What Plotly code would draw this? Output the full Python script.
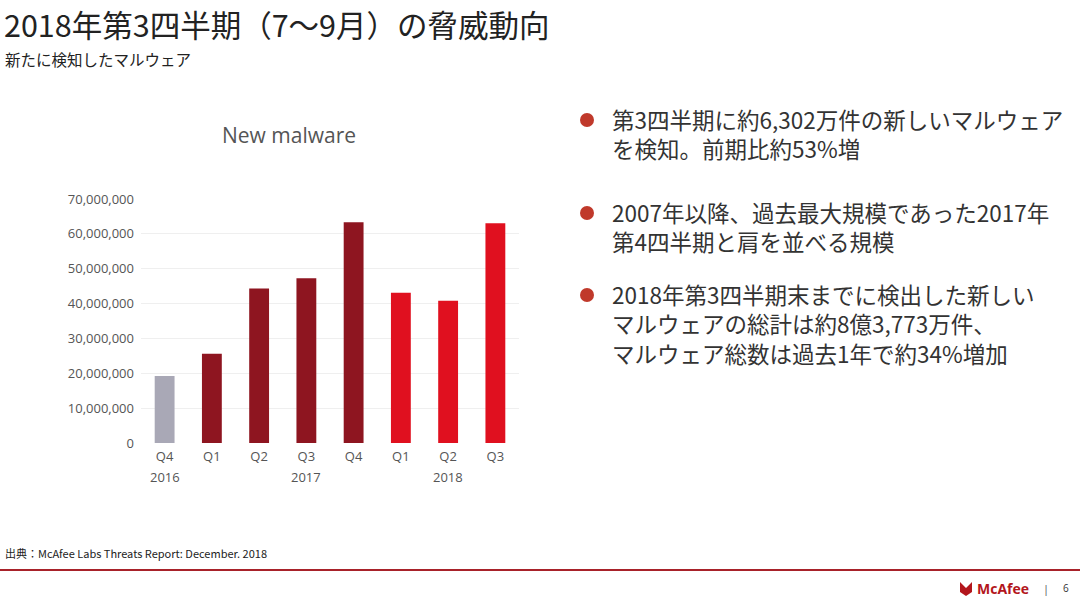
import plotly.graph_objects as go

# New malware per quarter
periods = ["Q4 2016", "Q1 2017", "Q2 2017", "Q3 2017", "Q4 2017", "Q1 2018", "Q2 2018", "Q3 2018"]
quarters = ["Q4", "Q1", "Q2", "Q3", "Q4", "Q1", "Q2", "Q3"]
new_malware = [19200000, 25600000, 44300000, 47300000, 63300000, 43100000, 40800000, 63020000]
bar_colors = ["#a9a8b6", "#8e1520", "#8e1520", "#8e1520", "#8e1520", "#e0101f", "#e0101f", "#e0101f"]
year_labels = {"Q4 2016": "2016", "Q3 2017": "2017", "Q2 2018": "2018"}
y_ticks = [0, 10000000, 20000000, 30000000, 40000000, 50000000, 60000000, 70000000]

bullets = [
    ["第3四半期に約6,302万件の新しいマルウェア", "を検知。前期比約53%増"],
    ["2007年以降、過去最大規模であった2017年", "第4四半期と肩を並べる規模"],
    ["2018年第3四半期末までに検出した新しい", "マルウェアの総計は約8億3,773万件、", "マルウェア総数は過去1年で約34%増加"],
]

W, H = 1080, 602
JP = "Noto Sans CJK JP"
LAT = "Open Sans"


def py(px_y):
    return 1 - px_y / H


def px_(px_x):
    return px_x / W


fig = go.Figure()
fig.add_trace(go.Bar(x=periods, y=new_malware, marker=dict(color=bar_colors, line=dict(width=0)),
                     hoverinfo="x+y"))

fig.update_layout(
    width=W, height=H,
    margin=dict(l=0, r=0, t=0, b=0, autoexpand=False),
    paper_bgcolor="white", plot_bgcolor="white",
    showlegend=False,
    bargap=0.58,
    xaxis=dict(domain=[px_(141), px_(519)], tickvals=periods, ticktext=quarters,
               showgrid=False, showline=False, ticks="", automargin=False, ticklabelstandoff=4,
               tickfont=dict(family=LAT, size=13, color="#555555")),
    yaxis=dict(domain=[py(443), py(199)], range=[0, 70000000], tickvals=y_ticks,
               tickformat=",d", showgrid=True, gridcolor="#efefef", zeroline=False,
               showline=False, ticks="", automargin=False, ticklabelstandoff=6,
               tickfont=dict(family=LAT, size=13, color="#555555")),
)

ann = []
# slide title and subtitle
ann.append(dict(text="2018年第3四半期（7〜9月）の脅威動向", x=px_(2), y=1, xanchor="left", yanchor="top",
                font=dict(family=JP, size=30.5, color="#222222")))
ann.append(dict(text="新たに検知したマルウェア", x=px_(3), y=py(59), xanchor="left", yanchor="middle",
                font=dict(family=JP, size=15.5, color="#222222")))
# chart title
ann.append(dict(text="New malware", x=px_(289), y=py(135), xanchor="center", yanchor="middle",
                font=dict(family=LAT, size=21, color="#555555")))
# year labels under the quarter ticks
for p, yr in year_labels.items():
    ann.append(dict(text=yr, x=p, xref="x", y=py(477), yref="paper", xanchor="center", yanchor="middle",
                    showarrow=False, font=dict(family=LAT, size=13, color="#555555")))

# bullet text on the right
first_line_y = [120, 213, 295]
shapes = []
for lines, cy in zip(bullets, first_line_y):
    shapes.append(dict(type="circle", xref="paper", yref="paper",
                       x0=px_(580), x1=px_(594), y0=py(cy + 7), y1=py(cy - 7),
                       fillcolor="#c0392b", line=dict(width=0)))
    ann.append(dict(text="<br>".join(lines), x=px_(610), y=py(cy - 19), xanchor="left", yanchor="top",
                    align="left", font=dict(family=JP, size=22.5, color="#333333")))

# footer
ann.append(dict(text="出典：McAfee Labs Threats Report: December. 2018", x=px_(3), y=py(553),
                xanchor="left", yanchor="middle", font=dict(family=JP, size=11, color="#222222")))
ann.append(dict(text="<b>McAfee</b>", x=px_(975), y=py(588), xanchor="left", yanchor="middle",
                font=dict(family=LAT, size=14, color="#b3161c")))
ann.append(dict(text="|", x=px_(1046), y=py(588), xanchor="center", yanchor="middle",
                font=dict(family=LAT, size=11, color="#555555")))
ann.append(dict(text="6", x=px_(1066), y=py(588), xanchor="center", yanchor="middle",
                font=dict(family=LAT, size=10, color="#333333")))

for a in ann:
    a.setdefault("xref", "paper")
    a.setdefault("yref", "paper")
    a.setdefault("showarrow", False)
fig.update_layout(annotations=ann)

# red rule above the footer
shapes.append(dict(type="line", xref="paper", yref="paper", x0=0, x1=1, y0=py(570), y1=py(570),
                   line=dict(color="#a8222a", width=2)))
# small shield mark of the logo
x0, x1 = px_(960), px_(972)
shapes.append(dict(type="path", xref="paper", yref="paper",
                   path=f"M {x0} {py(582)} L {x0} {py(592)} L {(x0 + x1) / 2} {py(596)} L {x1} {py(592)} "
                        f"L {x1} {py(582)} L {(x0 + x1) / 2} {py(588)} Z",
                   fillcolor="#b3161c", line=dict(width=0)))
fig.update_layout(shapes=shapes)

fig.write_html("out.html", config={"displayModeBar": False},
               post_script="document.body.style.margin='0';")
